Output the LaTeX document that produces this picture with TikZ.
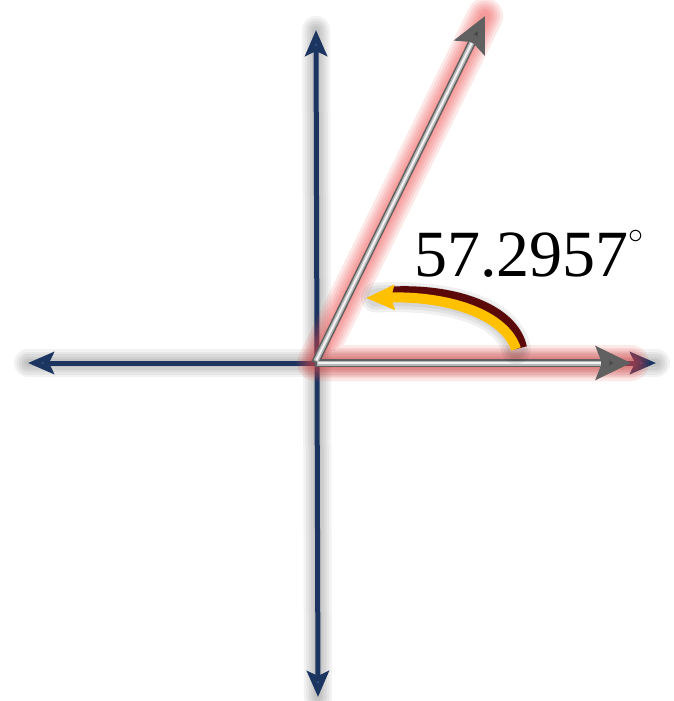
\documentclass[tikz,border=0pt]{standalone}
\usepackage{fix-cm}
\usepackage{fontspec}
\setmainfont{Liberation Serif}
\usetikzlibrary{arrows.meta,calc}

\definecolor{axisnavy}{HTML}{1B3560}
\definecolor{axistip}{HTML}{2F5A92}
\definecolor{raygray}{HTML}{606060}
\definecolor{rayshine}{HTML}{F2F2F2}
\definecolor{glowred}{HTML}{EE4444}
\definecolor{arcgold}{HTML}{FFC000}
\definecolor{arcmaroon}{HTML}{5A0808}

\begin{document}
\begin{tikzpicture}[
        x=1pt, y=-1pt,
        axis/.style={draw=axisnavy, line width=5pt,
            {Stealth[length=26pt, width=22pt, inset=5pt, fill=axistip]}-{Stealth[length=26pt, width=22pt, inset=5pt, fill=axistip]}},
        axisshade/.style={draw=black, opacity=0.05, line width=#1, line cap=round},
        glow/.style={draw=glowred, opacity=0.12, line width=#1, line cap=round, line join=round},
        ray/.style={draw=raygray, line width=8pt,
            -{Stealth[length=35pt, width=33pt, inset=6pt, fill=raygray!75!black]}},
        midtone/.style={draw=raygray!45, line width=5pt, shorten >=30pt},
        shine/.style={draw=rayshine, line width=2pt, shorten >=30pt},
        arcback/.style={draw=arcmaroon, line width=14pt, shorten >=24pt},
        arcfront/.style={draw=arcgold, line width=10pt,
            -{Stealth[length=28pt, width=24pt, inset=3pt, fill=arcgold]}},
        arcshade/.style={draw=black, opacity=0.06, line width=#1, line cap=round, shorten >=10pt},
        anglelabel/.style={anchor=base west, inner sep=0pt, font=\fontsize{66}{70}\selectfont}
    ]
    \useasboundingbox (0,0) rectangle (674,701);

    % points
    \coordinate (O) at (315,363);
    \coordinate (xL) at (28,363);
    \coordinate (xR) at (656,363);
    \coordinate (yT) at (316,30);
    \coordinate (yB) at (318,697);
    \coordinate (rayEnd) at (485,16);
    \coordinate (hEnd) at (631,363);
    \coordinate (arcStart) at (516,349);
    \coordinate (arcEnd) at (366,298);

    % soft shadow of the axes
    \foreach \w in {8,13,18,23,28} {
        \draw[axisshade=\w pt] (xL) -- (xR);
        \draw[axisshade=\w pt] (yT) -- (yB);
    }

    % axes
    \draw[axis] (xL) -- (xR);
    \draw[axis] (yB) -- (yT);

    % red glow round the two rays
    \foreach \w in {10,15,20,25,30,36} {
        \draw[glow=\w pt] (rayEnd) -- (O) -- (hEnd);
    }

    % rays
    \draw[ray] (O) -- (rayEnd);
    \draw[ray] (O) -- (hEnd);
    \draw[midtone] ($(O)!2pt!(rayEnd)$) -- (rayEnd);
    \draw[midtone] ($(O)!2pt!(hEnd)$) -- (hEnd);
    \draw[shine] ($(O)!3pt!(rayEnd)$) -- (rayEnd);
    \draw[shine] ($(O)!3pt!(hEnd)$) -- (hEnd);

    % angle arrow
    \foreach \w in {18,24,30} {
        \draw[arcshade=\w pt] (arcStart) .. controls (508,312) and (452,294) .. (arcEnd);
    }
    \draw[arcback] ([shift={(4,-1)}]arcStart) .. controls (512,310) and (453,290) .. ([shift={(0,-3)}]arcEnd);
    \draw[arcfront] (arcStart) .. controls (505,315) and (450,296) .. (arcEnd);

    % label
    \node[anglelabel] (angle) at (414,276) {57.2957\raisebox{33pt}{\fontsize{30}{30}\selectfont$\circ$}};
\end{tikzpicture}
\end{document}
